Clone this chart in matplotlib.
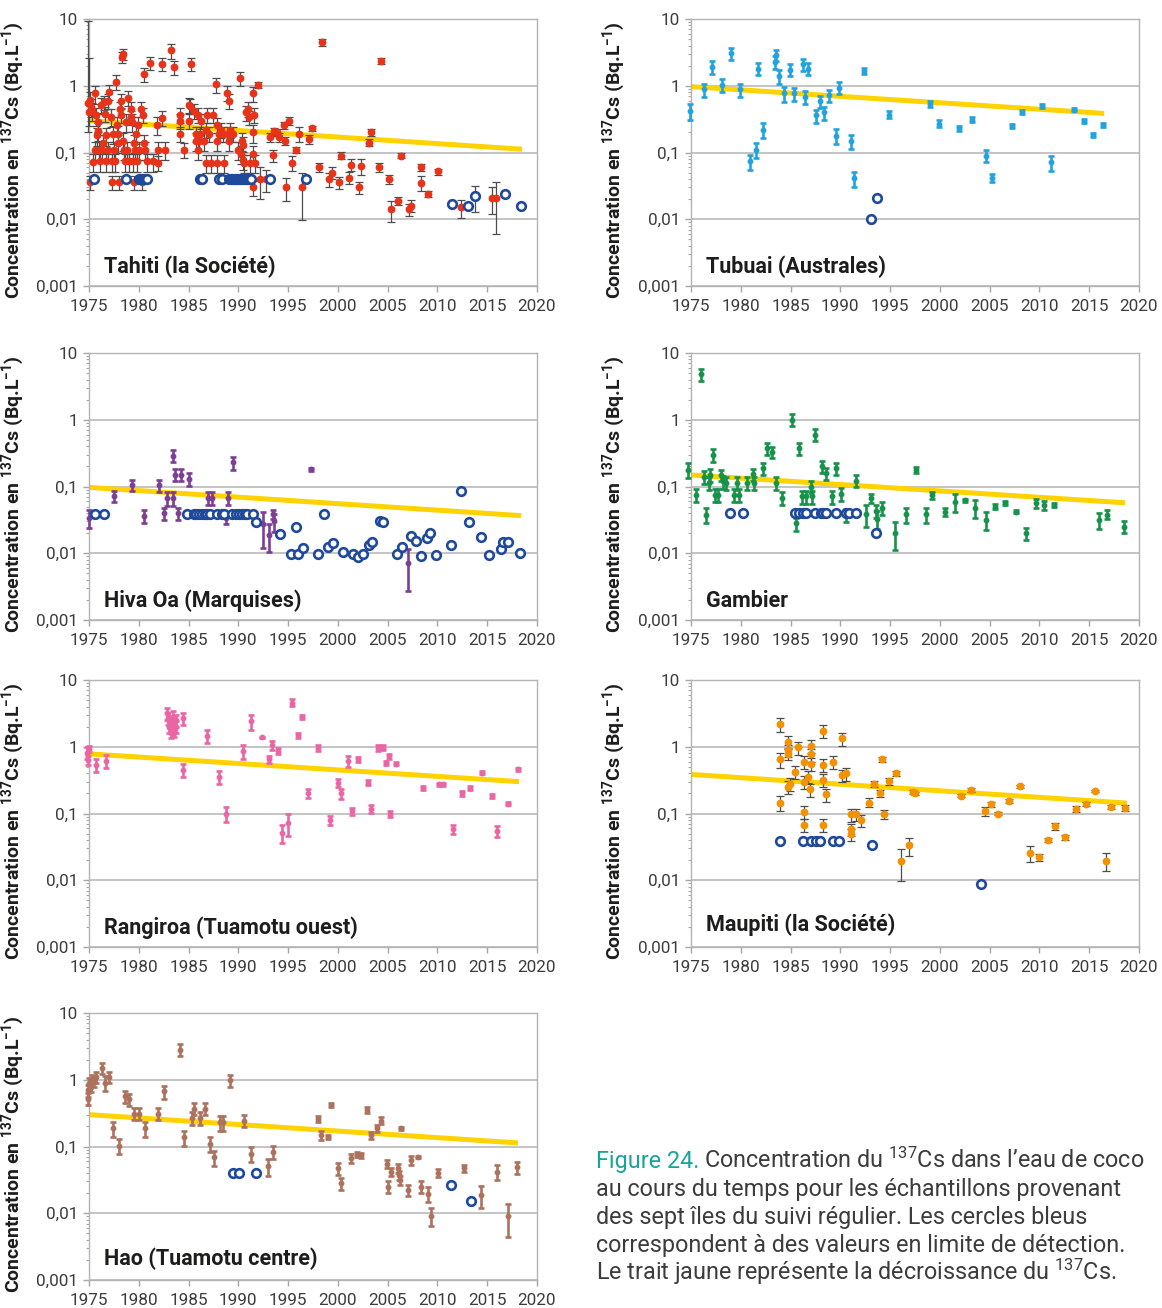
import matplotlib
matplotlib.use("Agg")
import matplotlib.pyplot as plt
from matplotlib.ticker import FixedLocator, FixedFormatter, LogLocator, NullFormatter

plt.rcParams['font.family'] = ['Roboto', 'DejaVu Sans']
plt.rcParams['mathtext.fontset'] = 'custom'
plt.rcParams['mathtext.rm'] = 'Roboto'
plt.rcParams['mathtext.it'] = 'Roboto:italic'
plt.rcParams['mathtext.bf'] = 'Roboto:bold'

# ---- Tahiti (red points, grey error bars) ----
tahiti_years = [
    1975.07, 1975.15, 1975.19, 1975.26, 1975.37, 1975.56, 1975.60, 1975.71, 1975.82, 1975.86,
    1975.93, 1976.00, 1976.08, 1976.19, 1976.34, 1976.45, 1976.53, 1976.64, 1976.72, 1976.75,
    1976.86, 1976.94, 1977.05, 1977.20, 1977.27, 1977.31, 1977.39, 1977.50, 1977.61, 1977.72,
    1977.80, 1977.87, 1977.95, 1978.06, 1978.13, 1978.17, 1978.24, 1978.32, 1978.39, 1978.43,
    1978.54, 1978.62, 1978.69, 1978.80, 1978.95, 1979.06, 1979.18, 1979.25, 1979.36, 1979.44,
    1979.47, 1979.55, 1979.62, 1979.74, 1979.85, 1979.92, 1980.00, 1980.26, 1980.33, 1980.44,
    1980.48, 1980.56, 1980.67, 1980.85, 1981.15, 1981.41, 1981.86, 1981.90, 1981.90, 1982.35,
    1982.38, 1982.64, 1983.20, 1983.54, 1984.10, 1984.13, 1984.13, 1984.58, 1985.03, 1985.10,
    1985.22, 1985.03, 1985.51, 1985.70, 1985.78, 1985.96, 1985.96, 1986.07, 1986.19, 1986.26,
    1986.52, 1986.71, 1986.74, 1986.89, 1987.08, 1987.30, 1987.49, 1987.75, 1987.83, 1987.83,
    1987.86, 1988.01, 1988.24, 1988.42, 1988.61, 1988.87, 1988.98, 1989.06, 1989.06, 1989.13,
    1989.50, 1989.99, 1990.18, 1990.29, 1990.36, 1990.44, 1990.44, 1990.55, 1990.73, 1991.00,
    1991.11, 1991.22, 1991.44, 1991.48, 1991.48, 1991.48, 1991.59, 1991.67, 1991.93, 1992.15,
    1992.79, 1993.16, 1993.53, 1993.61, 1993.90, 1994.13, 1994.57, 1994.65, 1994.80, 1995.10,
    1995.40, 1995.80, 1996.14, 1996.40, 1997.11, 1997.37, 1998.15, 1998.38, 1999.09, 1999.38,
    2000.13, 2000.35, 2001.10, 2001.36, 2002.11, 2002.37, 2003.11, 2003.37, 2004.12, 2004.34,
    2005.09, 2005.31, 2006.02, 2006.32, 2007.10, 2007.36, 2008.33, 2008.37, 2009.04, 2010.09,
    2012.36, 2015.46, 2015.90,
]
tahiti_vals = [
    0.036, 0.61, 0.48, 0.43, 0.073, 0.77, 0.11, 0.36, 0.18, 0.21,
    0.29, 0.11, 0.074, 0.52, 0.11, 0.14, 0.57, 0.38, 0.18, 0.074,
    0.60, 0.11, 0.81, 0.34, 0.036, 0.074, 0.19, 0.11, 0.074, 1.15,
    0.26, 0.19, 0.14, 0.036, 0.45, 0.37, 0.60, 2.7, 3.0, 0.15,
    0.11, 0.074, 0.29, 0.11, 0.66, 0.074, 0.45, 0.34, 0.29, 0.074,
    0.036, 0.14, 0.11, 0.19, 0.074, 0.26, 0.11, 0.45, 0.036, 0.37,
    1.5, 0.14, 0.11, 0.074, 2.2, 0.074, 0.26, 0.11, 0.07, 2.1,
    0.33, 0.11, 3.4, 1.9, 0.37, 0.30, 0.19, 0.11, 0.52, 0.50,
    2.1, 0.30, 0.42, 0.19, 0.15, 0.37, 0.11, 0.15, 0.19, 0.30,
    0.15, 0.07, 0.22, 0.37, 0.19, 0.07, 0.37, 1.05, 0.07, 0.15,
    0.26, 0.19, 0.22, 0.19, 0.07, 0.78, 0.19, 0.60, 0.15, 0.22,
    0.19, 0.11, 1.3, 0.095, 0.15, 0.077, 0.13, 0.07, 0.40, 0.45,
    0.34, 0.07, 0.77, 0.20, 0.095, 0.030, 0.37, 0.07, 1.02, 0.04,
    0.04, 0.17, 0.091, 0.21, 0.20, 0.17, 0.26, 0.15, 0.030, 0.30,
    0.07, 0.11, 0.19, 0.030, 0.16, 0.23, 0.06, 4.5, 0.04, 0.05,
    0.036, 0.09, 0.042, 0.066, 0.030, 0.063, 0.14, 0.20, 0.06, 2.35,
    0.04, 0.014, 0.019, 0.09, 0.014, 0.016, 0.06, 0.035, 0.024, 0.052,
    0.015, 0.021, 0.021,
]
# relative uncertainty of each measurement
tahiti_err = [
    0.25, 0.3, 0.3, 0.3, 0.3, 0.3, 0.3, 0.3, 0.3, 0.3,
    0.3, 0.3, 0.3, 0.25, 0.3, 0.3, 0.25, 0.25, 0.3, 0.3,
    0.25, 0.3, 0.25, 0.3, 0.25, 0.3, 0.3, 0.3, 0.3, 0.25,
    0.3, 0.3, 0.3, 0.25, 0.25, 0.25, 0.25, 0.2, 0.2, 0.3,
    0.3, 0.3, 0.3, 0.3, 0.25, 0.3, 0.25, 0.25, 0.3, 0.3,
    0.25, 0.3, 0.3, 0.3, 0.3, 0.3, 0.3, 0.25, 0.25, 0.25,
    0.25, 0.3, 0.3, 0.3, 0.22, 0.3, 0.3, 0.3, 0.25, 0.22,
    0.25, 0.3, 0.25, 0.25, 0.25, 0.25, 0.25, 0.25, 0.25, 0.25,
    0.22, 0.25, 0.25, 0.25, 0.3, 0.25, 0.3, 0.3, 0.25, 0.25,
    0.3, 0.3, 0.25, 0.25, 0.25, 0.3, 0.25, 0.25, 0.3, 0.3,
    0.25, 0.25, 0.25, 0.25, 0.3, 0.25, 0.25, 0.25, 0.3, 0.25,
    0.25, 0.3, 0.25, 0.3, 0.3, 0.3, 0.3, 0.3, 0.25, 0.25,
    0.25, 0.3, 0.25, 0.3, 0.3, 0.25, 0.25, 0.3, 0.1, 0.5,
    0.35, 0.15, 0.2, 0.12, 0.12, 0.15, 0.12, 0.15, 0.38, 0.15,
    0.25, 0.1, 0.25, 0.67, 0.15, 0.08, 0.15, 0.12, 0.25, 0.2,
    0.2, 0.12, 0.2, 0.2, 0.2, 0.27, 0.12, 0.12, 0.15, 0.1,
    0.15, 0.35, 0.15, 0.08, 0.2, 0.2, 0.12, 0.25, 0.1, 0.1,
    0.3, 0.43, 0.71,
]
# early samples with very wide, asymmetric uncertainty
tahiti_wide_years = [1974.93, 1974.97]
tahiti_wide_vals = [0.55, 0.40]
tahiti_wide_low = [0.20, 0.25]
tahiti_wide_high = [9.3, 2.6]

tahiti_lod_years = [
    1975.52, 1978.73, 1980.03, 1980.22, 1980.41, 1980.59, 1980.78, 1986.15, 1986.37, 1988.05,
    1988.31, 1989.06, 1989.24, 1989.43, 1989.62, 1989.80, 1989.99, 1990.18, 1990.36, 1990.55,
    1990.73, 1990.92, 1991.11, 1991.29, 1993.20, 1996.77, 2011.50, 2013.07, 2013.78, 2016.76,
    2018.40,
]
tahiti_lod_vals = [
    0.04, 0.04, 0.04, 0.04, 0.04, 0.04, 0.04, 0.04, 0.04, 0.04,
    0.04, 0.04, 0.04, 0.04, 0.04, 0.04, 0.04, 0.04, 0.04, 0.04,
    0.04, 0.04, 0.04, 0.04, 0.04, 0.04, 0.017, 0.016, 0.022, 0.024,
    0.016,
]
tahiti_lod_err = [
    0, 0, 0, 0, 0, 0, 0, 0, 0, 0,
    0, 0, 0, 0, 0, 0, 0, 0, 0, 0,
    0, 0, 0, 0, 0, 0, 0, 0, 0.41, 0,
    0,
]
tahiti_trend_years = [1975.0, 2018.5]
tahiti_trend_vals = [0.30, 0.112]

# ---- Tubuai ----
tubuai_years = [
    1974.90, 1976.30, 1977.10, 1978.10, 1979.05, 1979.96, 1980.97, 1981.48, 1981.77, 1982.24,
    1983.40, 1983.54, 1983.83, 1984.37, 1984.99, 1985.38, 1986.29, 1986.50, 1986.80, 1987.52,
    1987.92, 1988.39, 1988.89, 1989.54, 1989.87, 1991.06, 1991.35, 1992.40, 1994.90, 1999.02,
    1999.96, 2001.95, 2003.18, 2004.63, 2005.21, 2007.27, 2008.25, 2010.27, 2011.18, 2013.50,
    2014.47, 2015.34, 2016.39,
]
tubuai_vals = [
    0.42, 0.88, 1.9, 1.02, 3.05, 0.88, 0.074, 0.11, 1.8, 0.22,
    2.3, 2.9, 1.4, 0.77, 1.75, 0.77, 2.1, 0.68, 1.8, 0.36,
    0.59, 0.40, 0.72, 0.177, 0.94, 0.148, 0.041, 1.68, 0.37, 0.53,
    0.27, 0.23, 0.31, 0.09, 0.042, 0.25, 0.40, 0.50, 0.071, 0.44,
    0.30, 0.186, 0.26,
]
tubuai_err = [
    0.28, 0.22, 0.22, 0.22, 0.2, 0.22, 0.25, 0.25, 0.2, 0.25,
    0.22, 0.2, 0.25, 0.25, 0.2, 0.22, 0.2, 0.22, 0.2, 0.22,
    0.2, 0.22, 0.22, 0.25, 0.2, 0.25, 0.25, 0.1, 0.12, 0.1,
    0.12, 0.08, 0.08, 0.2, 0.15, 0.06, 0.07, 0.07, 0.25, 0.06,
    0.07, 0.07, 0.08,
]
tubuai_lod_years = [1993.13, 1993.67]
tubuai_lod_vals = [0.0102, 0.0205]
tubuai_trend_years = [1975.0, 2016.5]
tubuai_trend_vals = [0.97, 0.385]

# ---- Hiva Oa ----
hivaoa_years = [
    1975.00, 1977.50, 1979.36, 1980.52, 1982.08, 1982.57, 1982.83, 1983.46, 1983.46, 1983.65,
    1983.95, 1984.28, 1985.03, 1986.93, 1987.38, 1988.76, 1988.98, 1989.50, 1992.52, 1993.05,
    1993.53, 1993.60, 1997.26, 2007.07,
]
hivaoa_vals = [
    0.034, 0.072, 0.106, 0.036, 0.104, 0.040, 0.067, 0.29, 0.067, 0.15,
    0.040, 0.15, 0.13, 0.067, 0.067, 0.034, 0.067, 0.23, 0.027, 0.019,
    0.039, 0.030, 0.18, 0.0072,
]
hivaoa_err = [
    0.3, 0.2, 0.2, 0.22, 0.2, 0.2, 0.25, 0.2, 0.25, 0.2,
    0.2, 0.2, 0.22, 0.22, 0.22, 0.2, 0.22, 0.22, 0.55, 0.45,
    0.15, 0.3, 0.04, 0.62,
]
hivaoa_lod_years = [
    1975.56, 1976.49, 1984.88, 1985.51, 1985.78, 1986.07, 1986.37, 1986.63, 1986.89, 1987.19,
    1987.86, 1988.31, 1988.53, 1989.35, 1989.80, 1990.10, 1990.36, 1990.62, 1990.85, 1991.52,
    1991.74, 1994.16, 1995.28, 1995.77, 1995.99, 1996.51, 1998.00, 1998.56, 1999.05, 1999.53,
    2000.50, 2001.47, 2002.00, 2002.55, 2003.11, 2003.45, 2004.23, 2004.53, 2005.91, 2006.40,
    2007.33, 2007.89, 2008.37, 2008.93, 2009.30, 2009.86, 2011.35, 2012.32, 2013.14, 2014.41,
    2015.16, 2016.35, 2016.57, 2017.10, 2018.25,
]
hivaoa_lod_vals = [
    0.039, 0.039, 0.039, 0.039, 0.039, 0.039, 0.039, 0.039, 0.039, 0.039,
    0.039, 0.039, 0.039, 0.039, 0.039, 0.039, 0.039, 0.039, 0.039, 0.039,
    0.029, 0.0195, 0.0098, 0.025, 0.0098, 0.012, 0.0098, 0.039, 0.0125, 0.014,
    0.0106, 0.0098, 0.0087, 0.0098, 0.0133, 0.0145, 0.0305, 0.029, 0.0098, 0.0126,
    0.018, 0.015, 0.0091, 0.017, 0.020, 0.0094, 0.0133, 0.085, 0.029, 0.0174,
    0.0094, 0.0115, 0.0145, 0.0145, 0.0102,
]
hivaoa_trend_years = [1975.0, 2018.4]
hivaoa_trend_vals = [0.097, 0.0366]

# ---- Gambier ----
gambier_years = [
    1974.67, 1975.50, 1975.98, 1976.27, 1976.52, 1976.77, 1976.95, 1977.17, 1977.42, 1977.68,
    1978.04, 1978.22, 1978.51, 1979.31, 1979.60, 1979.78, 1980.64, 1981.19, 1981.33, 1982.24,
    1982.60, 1983.14, 1983.54, 1984.15, 1985.13, 1985.53, 1985.82, 1986.10, 1986.54, 1987.05,
    1987.12, 1987.48, 1988.13, 1988.60, 1989.15, 1989.54, 1990.09, 1990.52, 1991.53, 1992.55,
    1993.05, 1993.63, 1993.70, 1994.21, 1995.51, 1996.56, 1997.58, 1998.59, 1999.20, 2000.51,
    2001.52, 2002.57, 2003.55, 2004.67, 2005.57, 2006.55, 2007.63, 2008.61, 2009.62, 2010.42,
    2011.43, 2015.95, 2016.75, 2018.49,
]
gambier_vals = [
    0.178, 0.075, 4.8, 0.141, 0.038, 0.112, 0.149, 0.30, 0.075, 0.075,
    0.149, 0.119, 0.112, 0.075, 0.112, 0.075, 0.112, 0.153, 0.112, 0.188,
    0.376, 0.33, 0.112, 0.067, 1.0, 0.028, 0.376, 0.071, 0.071, 0.10,
    0.071, 0.60, 0.20, 0.158, 0.071, 0.188, 0.077, 0.038, 0.122, 0.0385,
    0.067, 0.043, 0.033, 0.048, 0.020, 0.0385, 0.178, 0.0385, 0.075, 0.042,
    0.0595, 0.062, 0.048, 0.0316, 0.050, 0.0575, 0.042, 0.020, 0.056, 0.053,
    0.053, 0.0316, 0.038, 0.0251,
]
gambier_err = [
    0.25, 0.22, 0.22, 0.22, 0.25, 0.22, 0.22, 0.22, 0.22, 0.22,
    0.2, 0.22, 0.22, 0.22, 0.22, 0.22, 0.22, 0.2, 0.22, 0.2,
    0.2, 0.2, 0.22, 0.22, 0.2, 0.22, 0.2, 0.22, 0.22, 0.2,
    0.22, 0.2, 0.2, 0.2, 0.22, 0.2, 0.22, 0.22, 0.2, 0.35,
    0.15, 0.22, 0.3, 0.22, 0.45, 0.25, 0.1, 0.25, 0.12, 0.15,
    0.3, 0.06, 0.3, 0.3, 0.08, 0.07, 0.05, 0.2, 0.15, 0.15,
    0.08, 0.28, 0.15, 0.2,
]
gambier_lod_years = [
    1978.87, 1980.21, 1985.49, 1985.85, 1986.20, 1986.58, 1987.48, 1988.02, 1988.28, 1988.57,
    1989.54, 1990.56, 1990.92, 1991.60, 1993.63,
]
gambier_lod_vals = [
    0.04, 0.04, 0.04, 0.04, 0.04, 0.04, 0.04, 0.04, 0.04, 0.04,
    0.04, 0.04, 0.04, 0.04, 0.02,
]
gambier_trend_years = [1974.7, 2018.6]
gambier_trend_vals = [0.15, 0.057]

# ---- Rangiroa ----
rangiroa_years = [
    1974.81, 1974.89, 1975.00, 1975.75, 1976.75, 1982.79, 1982.90, 1983.00, 1983.15, 1983.27,
    1983.39, 1983.46, 1983.58, 1983.69, 1983.77, 1984.47, 1984.47, 1986.89, 1988.05, 1988.76,
    1990.47, 1991.26, 1992.41, 1993.05, 1993.38, 1994.02, 1994.39, 1995.02, 1995.36, 1996.03,
    1996.36, 1997.00, 1998.00, 1999.20, 2000.02, 2000.35, 2000.99, 2001.44, 2002.03, 2003.00,
    2003.34, 2004.05, 2004.53, 2004.83, 2005.09, 2005.24, 2005.87, 2008.52, 2010.12, 2010.57,
    2011.61, 2012.47, 2013.29, 2014.49, 2015.45, 2015.94, 2017.10, 2018.07,
]
rangiroa_vals = [
    0.82, 0.63, 0.94, 0.53, 0.62, 3.16, 2.66, 2.0, 2.37, 1.58,
    2.82, 2.1, 1.58, 2.5, 2.0, 2.66, 0.45, 1.47, 0.355, 0.10,
    0.86, 2.4, 1.38, 0.65, 1.06, 0.86, 0.051, 0.072, 4.57, 1.48,
    2.8, 0.20, 0.97, 0.079, 0.29, 0.20, 0.61, 0.109, 0.65, 0.29,
    0.118, 0.97, 0.97, 0.575, 0.72, 0.098, 0.56, 0.243, 0.276, 0.276,
    0.058, 0.20, 0.243, 0.41, 0.185, 0.055, 0.141, 0.46,
]
rangiroa_err = [
    0.2, 0.15, 0.1, 0.22, 0.22, 0.2, 0.2, 0.2, 0.2, 0.15,
    0.2, 0.2, 0.12, 0.2, 0.2, 0.2, 0.22, 0.22, 0.22, 0.25,
    0.25, 0.25, 0.03, 0.12, 0.15, 0.1, 0.3, 0.35, 0.12, 0.1,
    0.08, 0.15, 0.1, 0.15, 0.15, 0.18, 0.18, 0.12, 0.08, 0.08,
    0.15, 0.1, 0.08, 0.08, 0.08, 0.1, 0.04, 0.06, 0.05, 0.05,
    0.15, 0.07, 0.08, 0.06, 0.07, 0.2, 0.06, 0.06,
]
rangiroa_lod_years = []
rangiroa_lod_vals = []
rangiroa_trend_years = [1974.6, 2018.2]
rangiroa_trend_vals = [0.79, 0.30]

# ---- Maupiti (orange points, grey error bars) ----
maupiti_years = [
    1983.94, 1983.94, 1983.94, 1984.73, 1984.73, 1984.77, 1984.77, 1984.91, 1985.46, 1985.71,
    1986.40, 1986.40, 1986.40, 1986.40, 1986.76, 1986.94, 1987.01, 1987.01, 1987.01, 1988.28,
    1988.28, 1988.28, 1988.28, 1988.53, 1989.29, 1990.16, 1990.16, 1990.56, 1991.06, 1991.06,
    1991.06, 1991.57, 1992.11, 1992.87, 1993.42, 1993.96, 1994.21, 1994.43, 1994.86, 1995.55,
    1996.06, 1996.89, 1997.29, 1997.54, 2002.10, 2003.08, 2004.56, 2005.10, 2005.82, 2006.91,
    2008.07, 2009.08, 2009.91, 2010.85, 2011.61, 2012.59, 2013.71, 2014.69, 2015.59, 2016.68,
    2017.18, 2018.63,
]
maupiti_vals = [
    2.16, 0.645, 0.146, 1.19, 0.88, 0.79, 0.25, 0.28, 0.42, 0.98,
    0.60, 0.30, 0.105, 0.068, 0.355, 0.23, 1.02, 0.77, 0.56, 1.74,
    0.54, 0.316, 0.068, 0.193, 0.60, 1.33, 0.375, 0.40, 0.097, 0.058,
    0.049, 0.097, 0.079, 0.146, 0.28, 0.204, 0.65, 0.097, 0.304, 0.40,
    0.0195, 0.0335, 0.21, 0.20, 0.186, 0.224, 0.108, 0.137, 0.10, 0.155,
    0.254, 0.026, 0.0224, 0.040, 0.065, 0.044, 0.118, 0.14, 0.22, 0.0195,
    0.126, 0.122,
]
maupiti_err = [
    0.23, 0.25, 0.25, 0.22, 0.2, 0.2, 0.22, 0.22, 0.22, 0.22,
    0.22, 0.22, 0.22, 0.22, 0.2, 0.22, 0.22, 0.22, 0.22, 0.22,
    0.22, 0.22, 0.22, 0.22, 0.22, 0.22, 0.2, 0.22, 0.22, 0.2,
    0.2, 0.2, 0.2, 0.15, 0.1, 0.12, 0.08, 0.15, 0.12, 0.1,
    0.5, 0.3, 0.06, 0.06, 0.06, 0.06, 0.15, 0.1, 0.06, 0.06,
    0.05, 0.27, 0.12, 0.08, 0.12, 0.1, 0.1, 0.06, 0.04, 0.3,
    0.06, 0.1,
]
maupiti_lod_years = [1983.94, 1986.29, 1987.08, 1987.55, 1987.92, 1989.29, 1989.83, 1993.16, 2004.09]
maupiti_lod_vals = [0.039, 0.039, 0.039, 0.039, 0.039, 0.039, 0.039, 0.0335, 0.0089]
maupiti_trend_years = [1975.0, 2018.8]
maupiti_trend_vals = [0.385, 0.143]

# ---- Hao ----
hao_years = [
    1974.90, 1974.90, 1975.04, 1975.19, 1975.34, 1975.52, 1975.71, 1976.34, 1976.57, 1977.05,
    1977.39, 1978.06, 1978.58, 1979.06, 1979.55, 1980.03, 1980.63, 1981.97, 1982.49, 1984.17,
    1984.58, 1985.33, 1985.51, 1986.11, 1986.63, 1987.12, 1987.57, 1988.12, 1988.50, 1989.13,
    1990.59, 1991.26, 1992.97, 1993.53, 1998.00, 1998.34, 1999.01, 1999.35, 1999.98, 2000.32,
    2001.36, 2001.92, 2002.29, 2002.96, 2003.34, 2003.97, 2004.34, 2004.98, 2005.01, 2005.31,
    2006.02, 2006.17, 2006.25, 2006.32, 2007.03, 2007.33, 2008.04, 2008.33, 2009.08, 2009.38,
    2010.01, 2012.70, 2014.41, 2015.94, 2017.10, 2017.95,
]
hao_vals = [
    0.52, 0.70, 0.90, 0.78, 1.04, 0.93, 1.10, 1.5, 0.90, 1.10,
    0.187, 0.103, 0.57, 0.51, 0.31, 0.31, 0.187, 0.31, 0.67, 2.82,
    0.138, 0.27, 0.37, 0.266, 0.37, 0.11, 0.069, 0.23, 0.23, 0.98,
    0.245, 0.078, 0.051, 0.082, 0.26, 0.147, 0.139, 0.418, 0.047, 0.028,
    0.067, 0.0755, 0.074, 0.35, 0.147, 0.188, 0.245, 0.0555, 0.025, 0.042,
    0.047, 0.037, 0.0315, 0.187, 0.0224, 0.062, 0.070, 0.025, 0.0195, 0.0092,
    0.0405, 0.047, 0.0187, 0.042, 0.0092, 0.049,
]
hao_err = [
    0.2, 0.2, 0.2, 0.15, 0.15, 0.15, 0.2, 0.2, 0.25, 0.2,
    0.25, 0.25, 0.2, 0.2, 0.2, 0.2, 0.25, 0.2, 0.22, 0.2,
    0.25, 0.22, 0.2, 0.22, 0.2, 0.25, 0.25, 0.25, 0.25, 0.2,
    0.2, 0.25, 0.28, 0.22, 0.1, 0.15, 0.06, 0.08, 0.2, 0.2,
    0.15, 0.08, 0.08, 0.1, 0.12, 0.12, 0.12, 0.15, 0.2, 0.15,
    0.15, 0.15, 0.15, 0.05, 0.2, 0.15, 0.04, 0.2, 0.25, 0.3,
    0.15, 0.12, 0.35, 0.25, 0.52, 0.2,
]
hao_lod_years = [1989.43, 1990.03, 1991.74, 2011.35, 2013.40]
hao_lod_vals = [0.0405, 0.0405, 0.0405, 0.0267, 0.015]
hao_trend_years = [1975.0, 2018.1]
hao_trend_vals = [0.30, 0.113]

ytick_vals = [0.001, 0.01, 0.1, 1, 10]
ytick_labels = ['0,001', '0,01', '0,1', '1', '10']
xtick_vals = [1975, 1980, 1985, 1990, 1995, 2000, 2005, 2010, 2015, 2020]

LOD_BLUE = '#1f4a9b'
TREND = '#ffd200'
GRID = '#bfbfbf'
TXT = '#3c3c3b'

fig = plt.figure(figsize=(11.62, 13.08), dpi=100)

left_x, right_x, width = 89 / 1162, 691 / 1162, 448 / 1162
height = 267 / 1308
rows = [1 - 286 / 1308, 1 - 620 / 1308, 1 - 947 / 1308, 1 - 1280 / 1308]


def setup_axes(ax, label_x):
    ax.set_yscale('log')
    ax.set_ylim(0.001, 10)
    ax.set_xlim(1975, 2020)
    ax.yaxis.set_major_locator(FixedLocator(ytick_vals))
    ax.yaxis.set_major_formatter(FixedFormatter(ytick_labels))
    ax.yaxis.set_minor_locator(LogLocator(base=10, subs=range(2, 10)))
    ax.yaxis.set_minor_formatter(NullFormatter())
    ax.set_xticks(xtick_vals)
    ax.set_xticklabels([str(v) for v in xtick_vals])
    ax.tick_params(axis='both', which='major', length=4, width=1, color='#a6a6a6',
                   labelsize=12.3, labelcolor=TXT, pad=4)
    ax.tick_params(axis='x', which='major', pad=5.5)
    ax.tick_params(axis='y', which='minor', length=2.5, width=0.8, color='#a6a6a6')
    for sp in ax.spines.values():
        sp.set_color('#b3b3b3')
        sp.set_linewidth(1.0)
    ax.grid(True, axis='y', which='major', color=GRID, lw=1.3)
    ax.set_axisbelow(True)
    ax.set_ylabel(r'Concentration en $^{\mathbf{137}}$Cs (Bq.L$^{\mathbf{-1}}$)',
                  fontsize=14, fontweight='bold', color='#1d1d1b')
    ax.yaxis.set_label_coords(label_x, 0.47)


def draw_island(ax, title, years, vals, errs, color, grey_bars,
                lod_years, lod_vals, trend_years, trend_vals, title_y=0.047, lod_errs=None):
    ax.plot(trend_years, trend_vals, color=TREND, lw=3.6, solid_capstyle='butt', zorder=2)
    yerr = [v * e for v, e in zip(vals, errs)]
    if grey_bars:
        ax.errorbar(years, vals, yerr=yerr, fmt='o', ms=4.6, color=color, mec=color,
                    ecolor='#4d4d4d', elinewidth=0.9, capsize=2.6, capthick=0.9,
                    zorder=3, clip_on=False)
    else:
        ax.errorbar(years, vals, yerr=yerr, fmt='o', ms=3.2, color=color, mec=color,
                    ecolor=color, elinewidth=1.9, capsize=2.5, capthick=1.9,
                    zorder=3, clip_on=False)
    if lod_errs is not None:
        bar_x = [x for x, e in zip(lod_years, lod_errs) if e > 0]
        bar_y = [y for y, e in zip(lod_vals, lod_errs) if e > 0]
        bar_e = [y * e for y, e in zip(lod_vals, lod_errs) if e > 0]
        ax.errorbar(bar_x, bar_y, yerr=bar_e, fmt='none', ecolor='#4d4d4d',
                    elinewidth=0.9, capsize=2.6, capthick=0.9, zorder=3)
    ax.plot(lod_years, lod_vals, 'o', mfc='white', mec=LOD_BLUE, ms=6.2, mew=1.9,
            zorder=4, clip_on=False)
    ax.text(0.033, title_y, title, transform=ax.transAxes, fontsize=15.5,
            fontweight='bold', color='#1d1d1b', va='baseline', ha='left', zorder=5)


ax_tahiti = fig.add_axes([left_x, rows[0], width, height])
setup_axes(ax_tahiti, -0.138)
ax_tahiti.errorbar(tahiti_wide_years, tahiti_wide_vals,
                   yerr=[[v - lo for v, lo in zip(tahiti_wide_vals, tahiti_wide_low)],
                         [hi - v for v, hi in zip(tahiti_wide_vals, tahiti_wide_high)]],
                   fmt='o', ms=4.6, color='#e63319', ecolor='#4d4d4d', elinewidth=0.9,
                   capsize=2.6, capthick=0.9, zorder=3, clip_on=False)
draw_island(ax_tahiti, 'Tahiti (la Société)', tahiti_years, tahiti_vals, tahiti_err,
            '#e63319', True, tahiti_lod_years, tahiti_lod_vals,
            tahiti_trend_years, tahiti_trend_vals, lod_errs=tahiti_lod_err)

ax_tubuai = fig.add_axes([right_x, rows[0], width, height])
setup_axes(ax_tubuai, -0.14)
draw_island(ax_tubuai, 'Tubuai (Australes)', tubuai_years, tubuai_vals, tubuai_err,
            '#22a3dd', False, tubuai_lod_years, tubuai_lod_vals,
            tubuai_trend_years, tubuai_trend_vals)

ax_hivaoa = fig.add_axes([left_x, rows[1], width, height])
setup_axes(ax_hivaoa, -0.138)
draw_island(ax_hivaoa, 'Hiva Oa (Marquises)', hivaoa_years, hivaoa_vals, hivaoa_err,
            '#7d3f95', False, hivaoa_lod_years, hivaoa_lod_vals,
            hivaoa_trend_years, hivaoa_trend_vals)

ax_gambier = fig.add_axes([right_x, rows[1], width, height])
setup_axes(ax_gambier, -0.14)
draw_island(ax_gambier, 'Gambier', gambier_years, gambier_vals, gambier_err,
            '#16924a', False, gambier_lod_years, gambier_lod_vals,
            gambier_trend_years, gambier_trend_vals)

ax_rangiroa = fig.add_axes([left_x, rows[2], width, height])
setup_axes(ax_rangiroa, -0.138)
draw_island(ax_rangiroa, 'Rangiroa (Tuamotu ouest)', rangiroa_years, rangiroa_vals,
            rangiroa_err, '#ea65a4', False, rangiroa_lod_years, rangiroa_lod_vals,
            rangiroa_trend_years, rangiroa_trend_vals)

ax_maupiti = fig.add_axes([right_x, rows[2], width, height])
setup_axes(ax_maupiti, -0.14)
draw_island(ax_maupiti, 'Maupiti (la Société)', maupiti_years, maupiti_vals, maupiti_err,
            '#f39200', True, maupiti_lod_years, maupiti_lod_vals,
            maupiti_trend_years, maupiti_trend_vals, title_y=0.06)

ax_hao = fig.add_axes([left_x, rows[3], width, height])
setup_axes(ax_hao, -0.138)
draw_island(ax_hao, 'Hao (Tuamotu centre)', hao_years, hao_vals, hao_err,
            '#ad725d', False, hao_lod_years, hao_lod_vals,
            hao_trend_years, hao_trend_vals, title_y=0.055)

# caption, bottom right
cap_x = 596 / 1162
cap_base = [1168, 1196, 1224, 1252, 1280]
cap_size = 16.8
head = fig.text(cap_x, 1 - cap_base[0] / 1308, 'Figure 24.', fontsize=cap_size,
                color='#1aa39a', va='baseline', ha='left')
renderer = fig.canvas.get_renderer()
bb = head.get_window_extent(renderer=renderer)
fig.text((bb.x1 + 5) / fig.bbox.width, 1 - cap_base[0] / 1308,
         r'Concentration du $^{137}$Cs dans l’eau de coco',
         fontsize=cap_size, color=TXT, va='baseline', ha='left')
caption_rest = [
    'au cours du temps pour les échantillons provenant',
    'des sept îles du suivi régulier. Les cercles bleus',
    'correspondent à des valeurs en limite de détection.',
    r'Le trait jaune représente la décroissance du $^{137}$Cs.',
]
for line, base in zip(caption_rest, cap_base[1:]):
    fig.text(cap_x, 1 - base / 1308, line, fontsize=cap_size, color=TXT,
             va='baseline', ha='left')

fig.savefig('out.png', dpi=100)
